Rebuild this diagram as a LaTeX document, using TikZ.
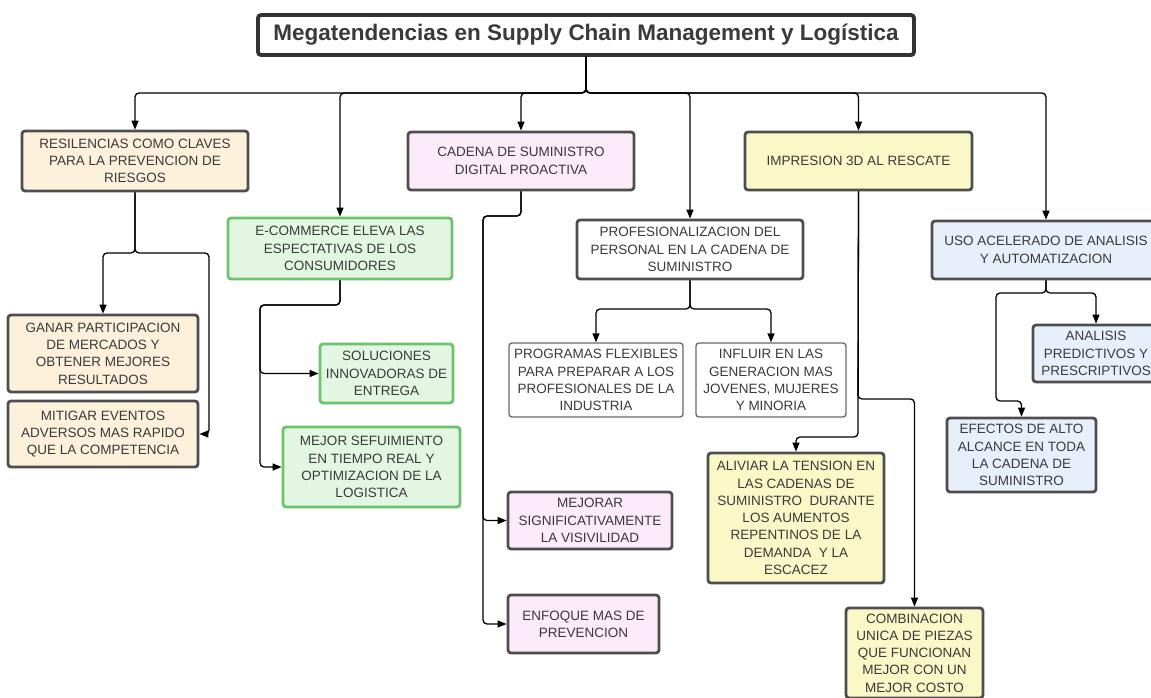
\documentclass[tikz,border=0pt]{standalone}
\usepackage{fontspec}
\setmainfont{Liberation Sans}
\usetikzlibrary{arrows.meta,shadows}
\definecolor{edge}{HTML}{4E4E4E}
\definecolor{txt}{HTML}{3A3A3A}
\definecolor{beige}{HTML}{FDF1DC}
\definecolor{pinkbg}{HTML}{FCEBF8}
\definecolor{yellowbg}{HTML}{FBF8C8}
\definecolor{bluebg}{HTML}{E7EFFA}
\definecolor{greenbg}{HTML}{E3F6E1}
\definecolor{greenedge}{HTML}{6BC46D}
\tikzset{
	base/.style={draw=edge, rounded corners=3pt, align=center, inner sep=0pt, text=txt,
		font=\fontsize{13.5}{17.3}\selectfont},
	box/.style={base, line width=2.8pt, drop shadow={opacity=0.15, shadow xshift=0.8pt, shadow yshift=-1.2pt}},
	plainbox/.style={base, line width=1.3pt, draw=edge!85, fill=white},
	greenbox/.style={box, draw=greenedge, fill=greenbg},
	sz/.style 2 args={minimum width=#1pt, minimum height=#2pt},
	link/.style={line width=1.3pt, rounded corners=4pt, -{Triangle[length=9pt,width=7pt]}}
}
\begin{document}
\begin{tikzpicture}[x=1pt, y=-1pt]
	\useasboundingbox[fill=white] (0,0) rectangle (1151,698);
	% title
	\node[box, line width=3.8pt, draw=black!80, fill=white, sz={656}{40},
		drop shadow={opacity=0.3, shadow xshift=1.2pt, shadow yshift=-2pt},
		font=\fontsize{22.5}{26}\selectfont\bfseries] (title) at (586,35)
		{Megatendencias en Supply Chain Management y Logística};
	% first level
	\node[box, fill=beige, sz={226}{60}] (res) at (135,161) {RESILENCIAS COMO CLAVES\\PARA LA PREVENCION DE\\RIESGOS};
	\node[greenbox, sz={224}{61}] (ecom) at (340,248.5) {E-COMMERCE ELEVA LAS\\ESPECTATIVAS DE LOS\\CONSUMIDORES};
	\node[box, fill=pinkbg, sz={226}{58}] (cad) at (521,161) {CADENA DE SUMINISTRO\\DIGITAL PROACTIVA};
	\node[box, fill=white, sz={226}{59}] (prof) at (690,249.5) {PROFESIONALIZACION DEL\\PERSONAL EN LA CADENA DE\\SUMINISTRO};
	\node[box, fill=yellowbg, sz={227}{58}] (imp) at (858.5,161) {IMPRESION 3D AL RESCATE};
	\node[box, fill=bluebg, sz={228}{58}] (uso) at (1046,250) {USO ACELERADO DE ANALISIS\\Y AUTOMATIZACION};
	% second level
	\node[box, fill=beige, sz={190}{77}] (ganar) at (103,353.5) {GANAR PARTICIPACION\\DE MERCADOS Y\\OBTENER MEJORES\\RESULTADOS};
	\node[box, fill=beige, sz={190}{66}] (miti) at (103,434) {MITIGAR EVENTOS\\ADVERSOS MAS RAPIDO\\QUE LA COMPETENCIA};
	\node[greenbox, sz={133}{59}] (sol) at (386.5,373.5) {SOLUCIONES\\INNOVADORAS DE\\ENTREGA};
	\node[greenbox, sz={177}{80}] (mej) at (371.5,467) {MEJOR SEFUIMIENTO\\EN TIEMPO REAL Y\\OPTIMIZACION DE LA\\LOGISTICA};
	\node[box, fill=pinkbg, sz={164}{57}] (vis) at (590,520.5) {MEJORAR\\SIGNIFICATIVAMENTE\\LA VISIVILIDAD};
	\node[box, fill=pinkbg, sz={151}{58}] (enf) at (583.5,624) {ENFOQUE MAS DE\\PREVENCION};
	\node[plainbox, sz={174}{74}] (prog) at (596,380) {PROGRAMAS FLEXIBLES\\PARA PREPARAR A LOS\\PROFESIONALES DE LA\\INDUSTRIA};
	\node[plainbox, sz={150}{74}] (infl) at (771,380) {INFLUIR EN LAS\\GENERACION MAS\\JOVENES, MUJERES\\Y MINORIA};
	\node[box, fill=yellowbg, sz={176}{130}] (ali) at (796,518) {ALIVIAR LA TENSION EN\\LAS CADENAS DE\\SUMINISTRO\ \ DURANTE\\LOS AUMENTOS\\REPENTINOS DE LA\\DEMANDA\ \ Y LA\\ESCACEZ};
	\node[box, fill=yellowbg, sz={137}{90}] (comb) at (914.5,653) {COMBINACION\\UNICA DE PIEZAS\\QUE FUNCIONAN\\MEJOR CON UN\\MEJOR COSTO};
	\node[box, fill=bluebg, sz={126}{57}] (ana) at (1096,353.5) {ANALISIS\\PREDICTIVOS Y\\PRESCRIPTIVOS};
	\node[box, fill=bluebg, sz={149}{74}] (efe) at (1021.5,455) {EFECTOS DE ALTO\\ALCANCE EN TODA\\LA CADENA DE\\SUMINISTRO};
	% junctions
	\coordinate (bus) at (586,93);
	\coordinate (resbus) at (135,253);
	\coordinate (resR) at (209,253);
	\coordinate (ecomL) at (260,305);
	\coordinate (cadL) at (483,216);
	\coordinate (profbus) at (690,309);
	\coordinate (impA) at (858,437);
	\coordinate (impB) at (858,399);
	\coordinate (usobus) at (1046,293);
	\coordinate (usoL) at (996,401);
	% connectors
	\foreach \n in {res,ecom,cad,prof,imp,uso}
		\draw[link] (title.south) -- (bus) -| (\n.north);
	\draw[link] (res.south) -- (resbus) -| (ganar.north);
	\draw[link] (res.south) |- (resR) |- (miti.east);
	\draw[link] (ecom.south) |- (ecomL) |- (sol.west);
	\draw[link] (ecom.south) |- (ecomL) |- (mej.west);
	\draw[link] (cad.south) |- (cadL) |- (vis.west);
	\draw[link] (cad.south) |- (cadL) |- (enf.west);
	\draw[link] (prof.south) -- (profbus) -| (prog.north);
	\draw[link] (prof.south) -- (profbus) -| (infl.north);
	\draw[link] (imp.south) -- (impA) -| (ali.north);
	\draw[link] (imp.south) -- (impB) -| (comb.north);
	\draw[link] (uso.south) -- (usobus) -| (ana.north);
	\draw[link] (uso.south) -- (usobus) -| (usoL) -| (efe.north);
\end{tikzpicture}
\end{document}
